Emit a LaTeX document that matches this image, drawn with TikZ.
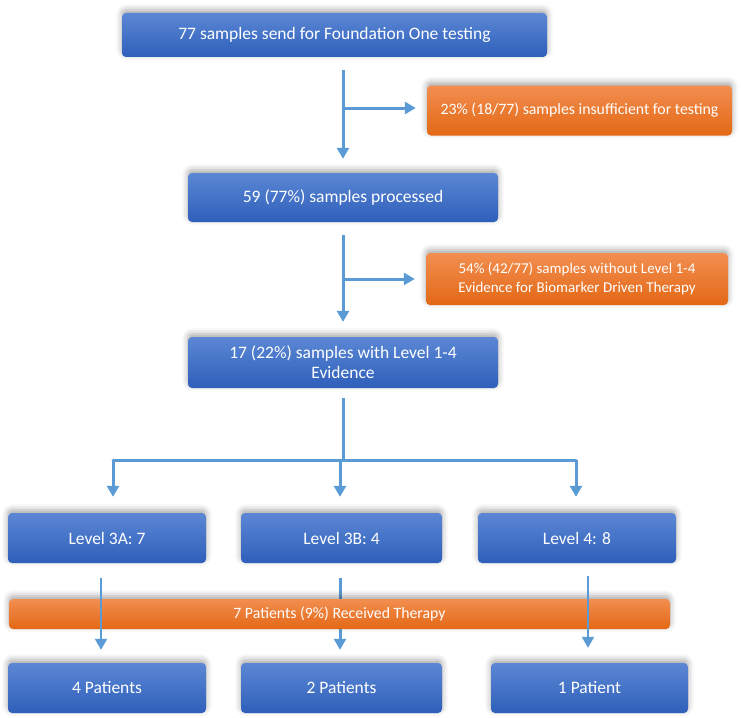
\documentclass[tikz,border=0pt]{standalone}
\usepackage{fontspec}
\setmainfont{Carlito}
\usetikzlibrary{shadows.blur,arrows.meta}
\definecolor{btop}{HTML}{5B87D4}
\definecolor{bbot}{HTML}{2E5FBA}
\definecolor{otop}{HTML}{F28E50}
\definecolor{obot}{HTML}{E36815}
\definecolor{arrc}{HTML}{5B9BD5}
\tikzset{
  box/.style={rounded corners=4pt, inner sep=0pt, text=white, align=center,
    font=\fontsize{17.5}{20}\selectfont,
    blur shadow={shadow xshift=0pt, shadow yshift=3pt, shadow blur radius=6pt, shadow opacity=35}},
  bluebox/.style={box, top color=btop, bottom color=bbot},
  orangebox/.style={box, top color=otop, bottom color=obot, font=\fontsize{15.8}{20}\selectfont},
  conn/.style={draw=arrc, line width=3pt},
  arr/.style={conn, -{Triangle[length=11pt,width=12pt]}},
}
\begin{document}
\begin{tikzpicture}[x=1pt,y=-1pt]
\useasboundingbox (0,0) rectangle (741,717);
\node[bluebox, minimum width=425, minimum height=44] (b1) at (334.5,35) {77 samples send for Foundation One testing};
\node[orangebox, minimum width=305, minimum height=50] (o1) at (579.5,110.5) {23\% (18/77) samples insufficient for testing};
\node[bluebox, minimum width=310, minimum height=49] (b2) at (343,197.5) {59 (77\%) samples processed};
\node[orangebox, minimum width=302, minimum height=52, font=\fontsize{15}{19}\selectfont] (o2) at (577,279) {54\% (42/77) samples without Level 1-4\\Evidence for Biomarker Driven Therapy};
\node[bluebox, minimum width=310, minimum height=51] (b3) at (343,362.5) {17 (22\%) samples with Level 1-4\\Evidence};
\node[bluebox, minimum width=198, minimum height=50] (l3a) at (107,538) {Level 3A: 7};
\node[bluebox, minimum width=201, minimum height=50] (l3b) at (341.5,538) {Level 3B: 4};
\node[bluebox, minimum width=198, minimum height=50] (l4) at (577,538) {Level 4: 8};
\node[bluebox, minimum width=198, minimum height=50] (p4) at (107,688) {4 Patients};
\node[bluebox, minimum width=201, minimum height=50] (p2) at (341.5,688) {2 Patients};
\node[bluebox, minimum width=197, minimum height=50] (p1) at (589.5,688) {1 Patient};

\coordinate (t1) at (343,57);
\coordinate (t1b) at (343,108);
\draw[arr, shorten <=13pt, shorten >=14pt] (t1) -- (b2.north);
\draw[arr, shorten >=11pt] (t1b) -- (t1b -| o1.west);
\draw[arr, shorten <=13pt, shorten >=15pt] (b2.south) -- (b3.north);
\draw[arr, shorten >=11pt] (b2.south |- o2.west) -- (o2.west);

\coordinate (split) at (343,460);
\coordinate (sl) at (113,460);
\coordinate (sm) at (340,460);
\coordinate (sr) at (576,460);
\draw[conn, shorten <=10pt] (b3.south) -- (split);
\draw[conn, line cap=round] (sl) -- (sr);
\draw[arr, shorten >=16pt] (sl) -- (sl |- l3a.north);
\draw[arr, shorten >=16pt] (sm) -- (sm |- l3b.north);
\draw[arr, shorten >=16pt] (sr) -- (sr |- l4.north);

\coordinate (am) at (340,563);
\draw[arr, shorten <=15pt, shorten >=13pt] (am) -- (am |- p2.north);
\node[orangebox, minimum width=661, minimum height=30] (bar) at (339.5,614) {7 Patients (9\%) Received Therapy};
\coordinate (al) at (101,563);
\coordinate (ar) at (588,563);
\draw[arr, line width=2pt, shorten <=15pt, shorten >=13pt] (al) -- (al |- p4.north);
\draw[arr, line width=2pt, shorten <=13pt, shorten >=15pt] (ar) -- (ar |- p1.north);
\end{tikzpicture}
\end{document}
